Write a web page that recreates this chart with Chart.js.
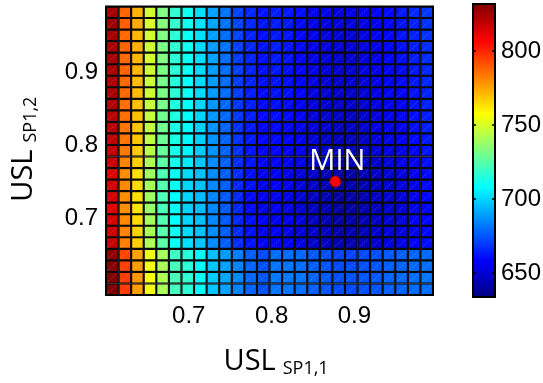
<!DOCTYPE html>
<html>
<head>
<meta charset="utf-8">
<script src="https://cdn.jsdelivr.net/npm/chart.js@4.4.0/dist/chart.umd.min.js"></script>
<style>
  body { margin: 0; background: #fff; }
  #wrap { position: relative; width: 543px; height: 383px; }
  #grafico { position: absolute; left: 0; top: 0; }
  #barra { position: absolute; left: 460px; top: 0; }
</style>
</head>
<body>
<div id="wrap">
  <canvas id="grafico" width="460" height="383"></canvas>
  <canvas id="barra" width="83" height="383"></canvas>
</div>
<script>
// DATI
const xLimiti = [0.6, 0.995];
const yLimiti = [0.596, 0.99];
const xTicks = [0.7, 0.8, 0.9];
const yTicks = [0.7, 0.8, 0.9];
const cbLimiti = [634, 832];
const cbTicks = [650, 700, 750, 800];
const puntoMin = { x: 0.877, y: 0.751 };
const etichettaMin = 'MIN';
const titoloX = ['USL', 'SP1,1'];
const titoloY = ['USL', 'SP1,2'];

// righe dall'alto verso il basso, 26 colonne (da USL SP1,1 = 0.6 a 1.0)
const valori = [
  [825,788,773,749,733,717,711,702,690,681,671,666,662,664,663,661,657,655,653,653,655,657,660,663,666,669],
  [826,789,774,750,734,718,711,703,691,681,672,666,662,664,663,660,656,654,652,652,654,656,659,662,665,668],
  [825,787,772,749,733,716,710,702,690,680,671,665,661,663,662,660,656,653,651,651,653,656,659,662,665,668],
  [824,788,773,748,732,717,711,701,689,681,671,666,662,664,662,660,655,653,651,651,653,655,658,661,664,667],
  [825,787,772,749,733,716,710,702,690,680,670,665,661,663,662,659,655,652,650,650,652,655,658,661,664,667],
  [824,788,772,748,732,716,710,701,689,680,671,665,661,663,661,659,655,652,650,650,652,654,657,660,663,666],
  [823,787,771,747,731,715,709,701,689,680,670,665,661,662,661,658,654,651,649,649,651,654,657,660,663,666],
  [824,787,771,748,732,716,710,701,689,680,670,664,660,662,661,658,654,651,649,649,651,653,656,659,662,665],
  [822,786,770,746,731,714,708,700,688,679,669,664,660,661,660,657,653,650,648,648,650,653,656,659,662,665],
  [821,786,770,746,730,714,708,700,688,679,669,664,660,661,660,657,653,650,648,647,649,652,655,658,661,664],
  [821,785,769,745,730,713,707,699,687,678,668,663,659,660,659,656,652,649,647,647,649,652,655,658,661,664],
  [820,785,769,745,729,713,707,699,687,678,668,663,659,660,659,656,652,649,646,646,648,651,654,657,660,663],
  [819,784,768,744,728,712,706,698,687,678,668,662,658,659,658,655,651,648,645,645,647,650,653,656,659,662],
  [818,782,767,742,726,711,704,697,686,677,667,662,657,658,657,654,650,647,644,644,646,649,652,655,658,661],
  [814,780,764,739,723,709,701,696,686,677,667,661,656,657,655,652,649,645,642,642,644,647,650,654,657,660],
  [816,781,765,740,724,709,700,696,685,677,666,661,656,657,655,652,648,645,641,642,644,647,650,653,656,660],
  [815,780,764,739,723,708,700,695,685,676,666,660,655,656,654,651,648,644,641,642,644,647,650,653,656,659],
  [813,780,763,738,722,708,699,695,685,676,666,660,655,656,654,651,647,644,641,641,643,646,649,652,656,659],
  [815,781,765,740,724,709,700,696,685,676,666,661,656,656,655,652,648,645,642,642,644,647,650,653,656,659],
  [817,782,766,741,725,710,701,696,686,677,667,661,656,657,655,652,649,646,643,643,645,648,651,654,657,660],
  [818,783,767,742,726,710,702,697,686,677,667,662,657,658,656,653,650,647,644,644,646,649,652,655,658,661],
  [829,794,776,754,740,720,715,707,696,689,683,677,673,680,680,679,676,674,672,672,673,674,676,677,678,679],
  [831,795,777,755,741,721,716,708,697,690,684,678,674,681,681,680,677,675,673,673,674,675,677,678,679,680],
  [832,796,778,756,742,722,717,709,698,691,685,679,675,682,682,681,678,676,674,674,675,676,678,679,680,681],
  [832,796,777,755,741,721,716,708,697,690,684,678,674,681,681,680,677,675,673,673,674,675,677,678,679,680]
];

// COLORI (mappa jet)
function jet(v) {
  const t = (v - cbLimiti[0]) / (cbLimiti[1] - cbLimiti[0]);
  const c = x => Math.round(255 * Math.max(0, Math.min(1, x)));
  const r = c(1.5 - Math.abs(4 * t - 3));
  const g = c(1.5 - Math.abs(4 * t - 2));
  const b = c(1.5 - Math.abs(4 * t - 1));
  return `rgb(${r},${g},${b})`;
}
const jetStops = [[0, '#000080'], [0.125, '#0000ff'], [0.375, '#00ffff'], [0.625, '#ffff00'], [0.875, '#ff0000'], [1, '#800000']];

// celle del grafico
const nRighe = valori.length;
const nCol = valori[0].length;
const dx = (xLimiti[1] - xLimiti[0]) / nCol;
const dy = (yLimiti[1] - yLimiti[0]) / nRighe;
const celle = [];
valori.forEach((riga, i) => {
  riga.forEach((v, j) => {
    const yAlto = yLimiti[1] - i * dy;
    celle.push({ x: xLimiti[0] + (j + 0.5) * dx, y: [yAlto - dy, yAlto], v: v });
  });
});

const fontTick = { family: "'Liberation Sans', Arial, sans-serif", size: 24 };
const fontTitolo = "'Open Sans', sans-serif";

function disegnaTitolo(ctx, parti, x, y) {
  ctx.font = `29px ${fontTitolo}`;
  ctx.fillText(parti[0], x, y);
  const w = ctx.measureText(parti[0]).width;
  ctx.font = `18px ${fontTitolo}`;
  ctx.fillText(parti[1], x + w + 7, y + 4);
}

// plugin per bordo, diagonali, etichetta MIN e titoli
const extra = {
  id: 'extra',
  afterDatasetsDraw(chart) {
    const ctx = chart.ctx;
    const meta = chart.getDatasetMeta(1);
    ctx.save();
    ctx.strokeStyle = 'rgba(255,255,255,0.35)';
    ctx.lineWidth = 0.8;
    ctx.setLineDash([1.5, 1.5]);
    meta.data.forEach(bar => {
      const l = bar.x - bar.width / 2;
      const r = bar.x + bar.width / 2;
      ctx.beginPath();
      ctx.moveTo(l + 2, bar.base - 2);
      ctx.lineTo(r - 2, bar.y + 2);
      ctx.stroke();
    });
    ctx.restore();
  },
  afterDraw(chart) {
    const ctx = chart.ctx;
    const a = chart.chartArea;
    ctx.save();
    ctx.strokeStyle = '#000';
    ctx.lineWidth = 2;
    ctx.strokeRect(a.left, a.top, a.right - a.left, a.bottom - a.top);

    // etichetta MIN
    const px = chart.scales.x.getPixelForValue(puntoMin.x);
    const py = chart.scales.y.getPixelForValue(puntoMin.y);
    ctx.fillStyle = '#fff';
    ctx.font = `29px ${fontTitolo}`;
    ctx.textAlign = 'center';
    ctx.textBaseline = 'alphabetic';
    ctx.fillText(etichettaMin, px + 2, py - 12);

    // titoli assi
    ctx.fillStyle = '#000';
    ctx.textAlign = 'left';
    disegnaTitolo(ctx, titoloX, (a.left + a.right) / 2 - 46, 370);
    ctx.translate(32, (a.top + a.bottom) / 2 + 51);
    ctx.rotate(-Math.PI / 2);
    disegnaTitolo(ctx, titoloY, 0, 0);
    ctx.restore();
  }
};

// GRAFICO PRINCIPALE
new Chart(document.getElementById('grafico'), {
  type: 'bar',
  data: {
    datasets: [
      {
        type: 'scatter',
        data: [puntoMin],
        backgroundColor: '#ff0000',
        borderColor: '#800000',
        borderWidth: 1,
        pointRadius: 5.5
      },
      {
        data: celle,
        backgroundColor: c => jet(c.raw.v),
        borderColor: '#0a0a0a',
        borderWidth: 1.4,
        borderSkipped: false,
        barPercentage: 1,
        categoryPercentage: 1
      }
    ]
  },
  options: {
    responsive: false,
    animation: false,
    layout: { padding: { top: 3, right: 27, left: 0, bottom: 0 } },
    plugins: { legend: { display: false }, tooltip: { enabled: false } },
    scales: {
      x: {
        type: 'linear',
        min: xLimiti[0],
        max: xLimiti[1],
        offset: false,
        grid: { display: false, drawTicks: false, offset: false },
        border: { display: false },
        ticks: { font: fontTick, color: '#000', padding: 7, callback: v => v.toFixed(1) },
        afterBuildTicks: s => { s.ticks = xTicks.map(v => ({ value: v })); },
        afterFit: s => { s.height = 88; s.paddingLeft = 0; s.paddingRight = 0; }
      },
      y: {
        type: 'linear',
        min: yLimiti[0],
        max: yLimiti[1],
        beginAtZero: false,
        grid: { display: false, drawTicks: false },
        border: { display: false },
        ticks: { font: fontTick, color: '#000', padding: 8, callback: v => v.toFixed(1) },
        afterBuildTicks: s => { s.ticks = yTicks.map(v => ({ value: v })); },
        afterFit: s => { s.width = 106; s.paddingTop = 0; s.paddingBottom = 0; }
      }
    }
  },
  plugins: [extra]
});

// BARRA COLORI
const tacche = {
  id: 'tacche',
  afterDraw(chart) {
    const ctx = chart.ctx;
    const a = chart.chartArea;
    const sy = chart.scales.y;
    ctx.save();
    ctx.strokeStyle = '#000';
    ctx.lineWidth = 2;
    ctx.strokeRect(a.left, a.top, a.right - a.left, a.bottom - a.top);
    ctx.lineWidth = 1.5;
    cbTicks.forEach(v => {
      const y = Math.round(sy.getPixelForValue(v));
      ctx.beginPath();
      ctx.moveTo(a.left, y); ctx.lineTo(a.left + 3, y);
      ctx.moveTo(a.right, y); ctx.lineTo(a.right - 3, y);
      ctx.stroke();
    });
    ctx.restore();
  }
};

new Chart(document.getElementById('barra'), {
  type: 'bar',
  data: {
    labels: [''],
    datasets: [{
      data: [cbLimiti],
      backgroundColor: c => {
        const area = c.chart.chartArea;
        if (!area) return '#000';
        const g = c.chart.ctx.createLinearGradient(0, area.bottom, 0, area.top);
        jetStops.forEach(s => g.addColorStop(s[0], s[1]));
        return g;
      },
      borderWidth: 0,
      barPercentage: 1,
      categoryPercentage: 1
    }]
  },
  options: {
    responsive: false,
    animation: false,
    layout: { padding: { top: 4, left: 13, right: 0, bottom: 86 } },
    plugins: { legend: { display: false }, tooltip: { enabled: false } },
    scales: {
      x: { display: false },
      y: {
        position: 'right',
        min: cbLimiti[0],
        max: cbLimiti[1],
        beginAtZero: false,
        grid: { display: false, drawTicks: false },
        border: { display: false },
        ticks: { font: fontTick, color: '#000', padding: 6 },
        afterBuildTicks: s => { s.ticks = cbTicks.map(v => ({ value: v })); },
        afterFit: s => { s.width = 48; s.paddingTop = 0; s.paddingBottom = 0; }
      }
    }
  },
  plugins: [tacche]
});
</script>
</body>
</html>
